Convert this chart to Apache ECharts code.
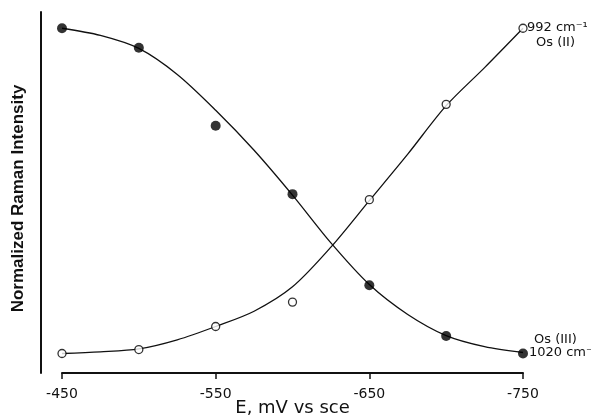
<!DOCTYPE html>
<html>
<head>
<meta charset="utf-8">
<script src="https://cdn.jsdelivr.net/npm/echarts@6/dist/echarts.min.js"></script>
<style>html,body{margin:0;padding:0;background:#fff}#c{width:591px;height:417px}</style>
</head>
<body>
<div id="c"></div>
<script>
// Potential (mV vs SCE) of the measured points
const potentials = [-450, -500, -550, -600, -650, -700, -750];
// Normalized intensity, 1020 cm-1 band, Os(III) (filled circles)
const osIII = [1.00, 0.94, 0.70, 0.49, 0.21, 0.054, 0.00];
// Normalized intensity, 992 cm-1 band, Os(II) (open circles)
const osII = [0.00, 0.012, 0.083, 0.158, 0.473, 0.766, 1.00];
// Drawn fit curves, every 25 mV
const curvePotentials = [-450, -475, -500, -525, -550, -575, -600, -625, -650, -675, -700, -725, -750];
const osIIICurve = [1.00, 0.978, 0.938, 0.858, 0.748, 0.625, 0.487, 0.34, 0.212, 0.12, 0.055, 0.021, 0.003];
const osIICurve = [0.00, 0.005, 0.014, 0.042, 0.083, 0.13, 0.205, 0.327, 0.47, 0.613, 0.762, 0.879, 1.00];
const xTicks = [-450, -550, -650, -750];

const pairs = (xs, ys) => xs.map((x, i) => [x, ys[i]]);
const chart = echarts.init(document.getElementById('c'), null, {renderer: 'canvas'});
const font = 'DejaVu Sans';
chart.setOption({
  animation: false,
  backgroundColor: '#fff',
  grid: {left: 62, right: 68, top: 12, bottom: 44, containLabel: false, outerBoundsMode: 'none'},
  xAxis: {
    type: 'value', min: -750, max: -450, inverse: true,
    name: 'E, mV vs sce', nameLocation: 'middle', nameGap: 26, nameMoveOverlap: false,
    nameTextStyle: {fontFamily: font, fontSize: 18, color: '#111'},
    axisLine: {show: true, onZero: false, lineStyle: {color: '#111', width: 2}},
    axisTick: {show: true, customValues: xTicks, length: 6, lineStyle: {color: '#111', width: 1.5}},
    axisLabel: {customValues: xTicks, margin: 14, fontFamily: font, fontSize: 14, color: '#111'},
    splitLine: {show: false}
  },
  yAxis: {
    type: 'value', min: -0.06, max: 1.05, offset: 21,
    name: 'Normalized Raman Intensity', nameLocation: 'middle', nameGap: 14, nameRotate: 90,
    nameTextStyle: {fontFamily: 'Liberation Sans', fontWeight: 'bold', fontSize: 17, color: '#111', padding: [0, 12, 0, 0]},
    axisLine: {show: true, onZero: false, lineStyle: {color: '#111', width: 2}},
    axisTick: {show: false}, axisLabel: {show: false}, splitLine: {show: false}
  },
  series: [
    {type: 'line', data: pairs(curvePotentials, osIIICurve), smooth: 0.3, showSymbol: false,
     lineStyle: {color: '#111', width: 1.3}, z: 2},
    {type: 'line', data: pairs(curvePotentials, osIICurve), smooth: 0.3, showSymbol: false,
     lineStyle: {color: '#111', width: 1.3}, z: 2},
    {type: 'scatter', data: pairs(potentials, osIII), symbol: 'circle', symbolSize: 10,
     itemStyle: {color: '#000'}, z: 3},
    {type: 'scatter', data: pairs(potentials, osII), symbol: 'circle', symbolSize: 8,
     itemStyle: {color: '#fff', borderColor: '#000', borderWidth: 1.3}, z: 3}
  ],
  graphic: [
    {type: 'text', left: 527, top: 21, style: {text: '992 cm⁻¹', font: '13px "DejaVu Sans"', fill: '#111'}},
    {type: 'text', left: 536, top: 36, style: {text: 'Os (II)', font: '13px "DejaVu Sans"', fill: '#111'}},
    {type: 'text', left: 534, top: 333, style: {text: 'Os (III)', font: '13px "DejaVu Sans"', fill: '#111'}},
    {type: 'text', left: 529, top: 346, style: {text: '1020 cm⁻¹', font: '13px "DejaVu Sans"', fill: '#111'}}
  ]
});
</script>
</body>
</html>
